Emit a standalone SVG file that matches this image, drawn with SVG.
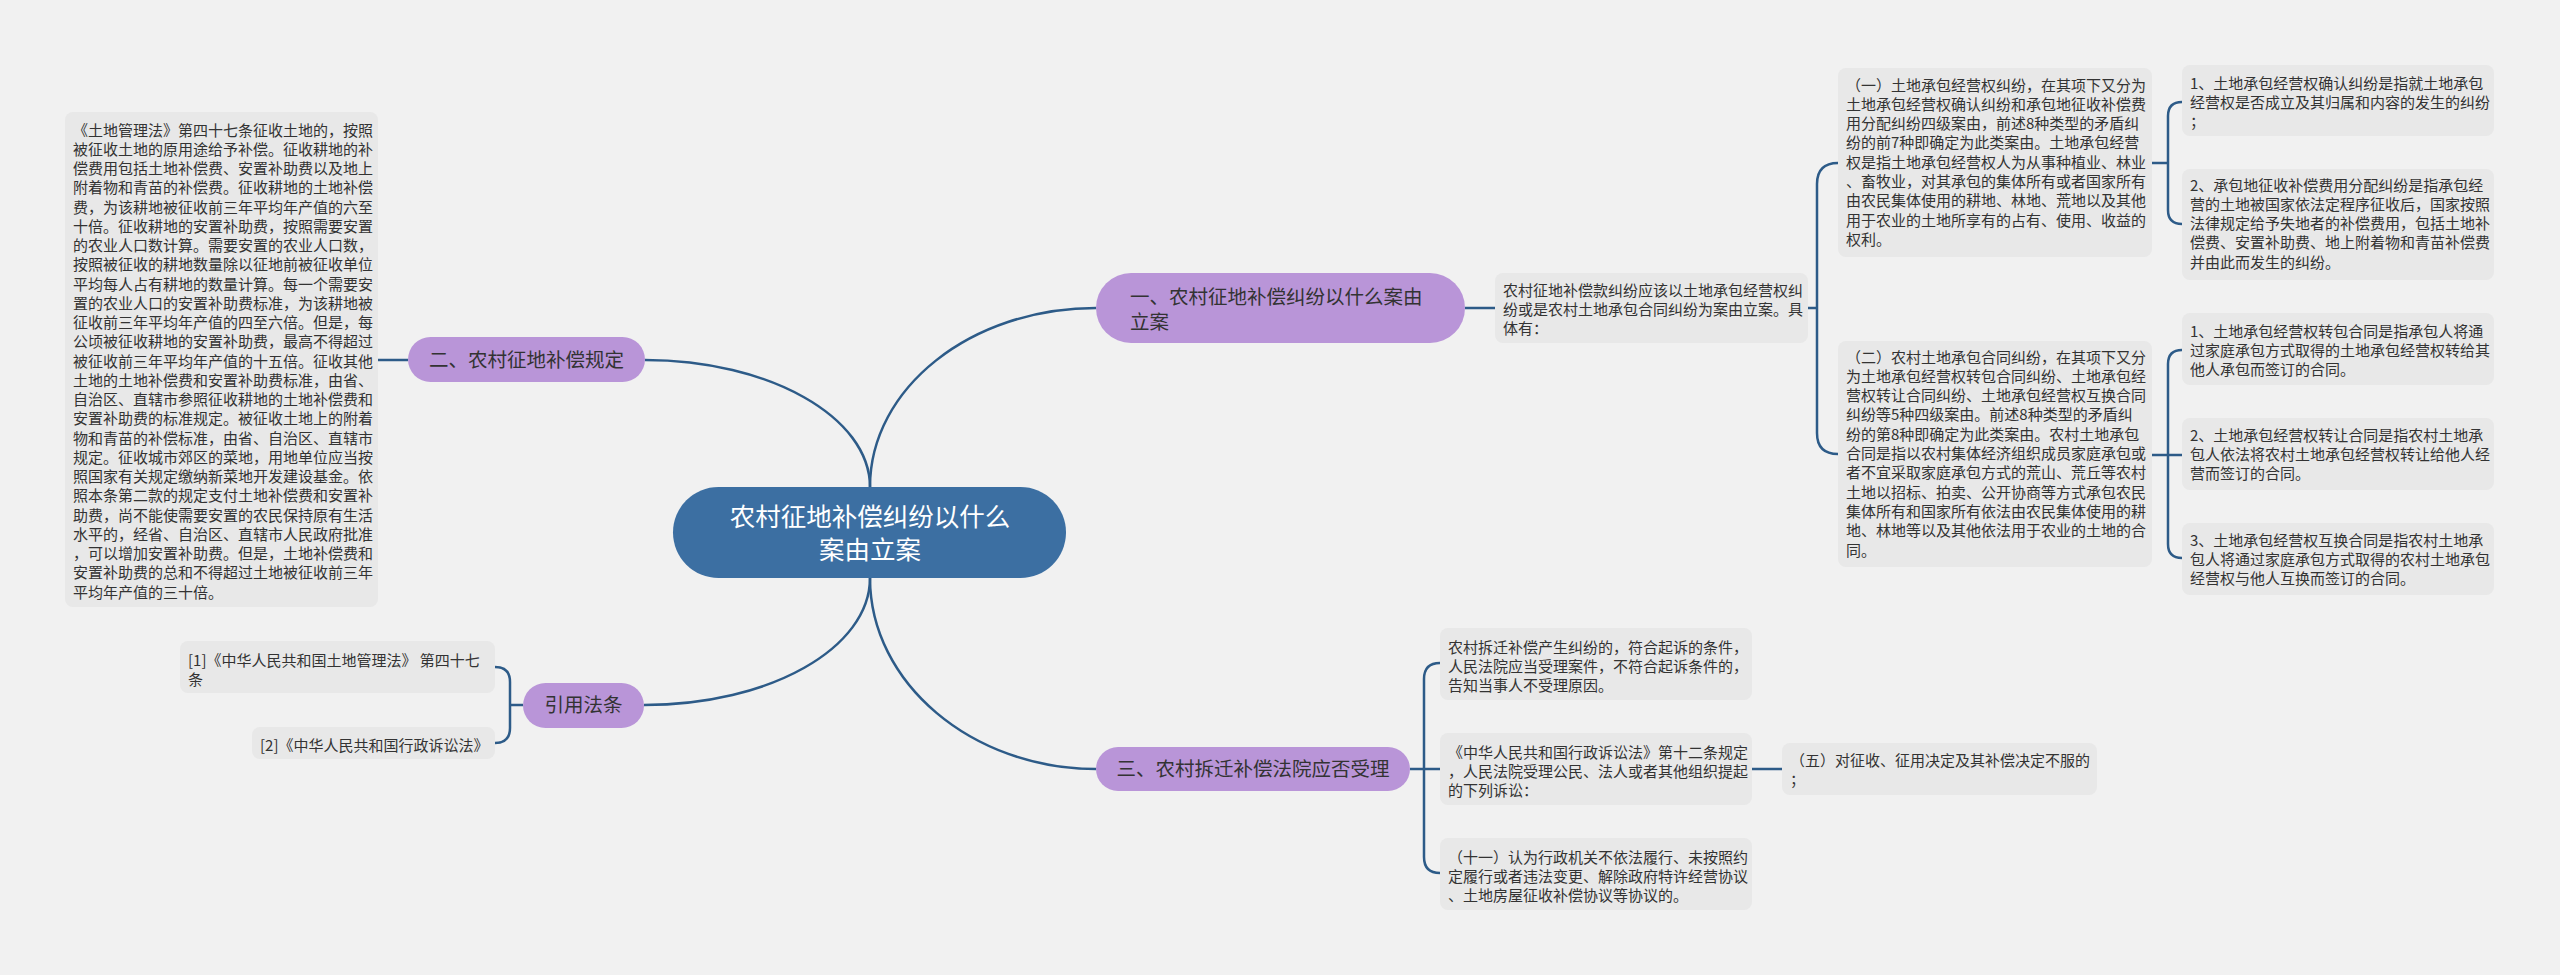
<svg xmlns="http://www.w3.org/2000/svg" width="2560" height="975" viewBox="0 0 2560 975">
<style>
text{font-family:"Noto Sans CJK SC","Noto Sans",sans-serif;}
.bg{fill:#f1f1f1;}
.box{fill:#e8e8e8;}
.t{font-size:15px;fill:#333333;}
.br{fill:#b995d8;}
.bt{font-size:19.5px;fill:#333333;}
.ct{font-size:25.5px;fill:#ffffff;text-anchor:middle;}
.ln{fill:none;stroke:#2d5b88;stroke-width:2.5;}
</style>
<rect class="bg" x="0" y="0" width="2560" height="975"/>
<g id="connectors">
<path class="ln" d="M870 487 C870 388 971 308 1096 308"/>
<path class="ln" d="M870 487 C870 417 769 360 645 360"/>
<path class="ln" d="M870 578 C870 683 972 769 1096 769"/>
<path class="ln" d="M870 578 C870 648 770 705 644 705"/>
<path class="ln" d="M408 360 L378 360"/>
<path class="ln" d="M1465 308 L1495 308"/>
<path class="ln" d="M1808 308 L1817 308"/>
<path class="ln" d="M1838 163 Q1817 163 1817 184 L1817 433 Q1817 454 1838 454"/>
<path class="ln" d="M2152 163 L2168 163"/>
<path class="ln" d="M2182 102 Q2168 102 2168 116 L2168 210 Q2168 224 2182 224"/>
<path class="ln" d="M2152 455 L2182 455"/>
<path class="ln" d="M2182 350 Q2168 350 2168 364 L2168 544 Q2168 558 2182 558"/>
<path class="ln" d="M1410 769 L1440 769"/>
<path class="ln" d="M1440 663 Q1424 663 1424 679 L1424 857 Q1424 873 1440 873"/>
<path class="ln" d="M1752 769 L1782 769"/>
<path class="ln" d="M523 705 L510 705"/>
<path class="ln" d="M495 667 Q510 667 510 682 L510 728 Q510 743 495 743"/>
</g>
<g id="center">
<rect x="673" y="487" width="393" height="91" rx="45.5" fill="#3c6fa2"/>
<text class="ct" x="870" y="526">农村征地补偿纠纷以什么</text>
<text class="ct" x="870" y="559">案由立案</text>
</g>
<g id="branch1">
<rect class="br" x="1096" y="273" width="369" height="70" rx="35"/>
<text class="bt" x="1130" y="304">一、农村征地补偿纠纷以什么案由</text>
<text class="bt" x="1130" y="329">立案</text>
</g>
<g id="branch2">
<rect class="br" x="408" y="337" width="237" height="45" rx="22.5"/>
<text class="bt" x="526.5" y="367" text-anchor="middle">二、农村征地补偿规定</text>
</g>
<g id="branch3">
<rect class="br" x="1096" y="747" width="314" height="44" rx="22"/>
<text class="bt" x="1253" y="776" text-anchor="middle">三、农村拆迁补偿法院应否受理</text>
</g>
<g id="branch4">
<rect class="br" x="523" y="683" width="121" height="45" rx="22.5"/>
<text class="bt" x="583.5" y="712" text-anchor="middle">引用法条</text>
</g>
<g id="law47">
<rect class="box" x="65" y="112" width="313" height="495" rx="8"/>
<text class="t" x="73" y="135.5">《土地管理法》第四十七条征收土地的，按照</text>
<text class="t" x="73" y="154.75">被征收土地的原用途给予补偿。征收耕地的补</text>
<text class="t" x="73" y="174">偿费用包括土地补偿费、安置补助费以及地上</text>
<text class="t" x="73" y="193.25">附着物和青苗的补偿费。征收耕地的土地补偿</text>
<text class="t" x="73" y="212.5">费，为该耕地被征收前三年平均年产值的六至</text>
<text class="t" x="73" y="231.75">十倍。征收耕地的安置补助费，按照需要安置</text>
<text class="t" x="73" y="251">的农业人口数计算。需要安置的农业人口数，</text>
<text class="t" x="73" y="270.25">按照被征收的耕地数量除以征地前被征收单位</text>
<text class="t" x="73" y="289.5">平均每人占有耕地的数量计算。每一个需要安</text>
<text class="t" x="73" y="308.75">置的农业人口的安置补助费标准，为该耕地被</text>
<text class="t" x="73" y="328">征收前三年平均年产值的四至六倍。但是，每</text>
<text class="t" x="73" y="347.25">公顷被征收耕地的安置补助费，最高不得超过</text>
<text class="t" x="73" y="366.5">被征收前三年平均年产值的十五倍。征收其他</text>
<text class="t" x="73" y="385.75">土地的土地补偿费和安置补助费标准，由省、</text>
<text class="t" x="73" y="405">自治区、直辖市参照征收耕地的土地补偿费和</text>
<text class="t" x="73" y="424.25">安置补助费的标准规定。被征收土地上的附着</text>
<text class="t" x="73" y="443.5">物和青苗的补偿标准，由省、自治区、直辖市</text>
<text class="t" x="73" y="462.75">规定。征收城市郊区的菜地，用地单位应当按</text>
<text class="t" x="73" y="482">照国家有关规定缴纳新菜地开发建设基金。依</text>
<text class="t" x="73" y="501.25">照本条第二款的规定支付土地补偿费和安置补</text>
<text class="t" x="73" y="520.5">助费，尚不能使需要安置的农民保持原有生活</text>
<text class="t" x="73" y="539.75">水平的，经省、自治区、直辖市人民政府批准</text>
<text class="t" x="73" y="559">，可以增加安置补助费。但是，土地补偿费和</text>
<text class="t" x="73" y="578.25">安置补助费的总和不得超过土地被征收前三年</text>
<text class="t" x="73" y="597.5">平均年产值的三十倍。</text>
</g>
<g id="ref1">
<rect class="box" x="180" y="641" width="315" height="52" rx="8"/>
<text class="t" x="188" y="665.5">[1]《中华人民共和国土地管理法》 第四十七</text>
<text class="t" x="188" y="684.8">条</text>
</g>
<g id="ref2">
<rect class="box" x="252" y="727" width="243" height="32" rx="8"/>
<text class="t" x="260" y="750.5">[2]《中华人民共和国行政诉讼法》</text>
</g>
<g id="cause">
<rect class="box" x="1495" y="273" width="313" height="70" rx="8"/>
<text class="t" x="1503" y="295.5">农村征地补偿款纠纷应该以土地承包经营权纠</text>
<text class="t" x="1503" y="314.8">纷或是农村土地承包合同纠纷为案由立案。具</text>
<text class="t" x="1503" y="334.1">体有：</text>
</g>
<g id="cause1">
<rect class="box" x="1838" y="68" width="314" height="189" rx="8"/>
<text class="t" x="1846" y="90.5">（一）土地承包经营权纠纷，在其项下又分为</text>
<text class="t" x="1846" y="109.8">土地承包经营权确认纠纷和承包地征收补偿费</text>
<text class="t" x="1846" y="129.1">用分配纠纷四级案由，前述8种类型的矛盾纠</text>
<text class="t" x="1846" y="148.4">纷的前7种即确定为此类案由。土地承包经营</text>
<text class="t" x="1846" y="167.7">权是指土地承包经营权人为从事种植业、林业</text>
<text class="t" x="1846" y="187">、畜牧业，对其承包的集体所有或者国家所有</text>
<text class="t" x="1846" y="206.3">由农民集体使用的耕地、林地、荒地以及其他</text>
<text class="t" x="1846" y="225.6">用于农业的土地所享有的占有、使用、收益的</text>
<text class="t" x="1846" y="244.9">权利。</text>
</g>
<g id="cause2">
<rect class="box" x="1838" y="341" width="314" height="226" rx="8"/>
<text class="t" x="1846" y="362.5">（二）农村土地承包合同纠纷，在其项下又分</text>
<text class="t" x="1846" y="381.8">为土地承包经营权转包合同纠纷、土地承包经</text>
<text class="t" x="1846" y="401.1">营权转让合同纠纷、土地承包经营权互换合同</text>
<text class="t" x="1846" y="420.4">纠纷等5种四级案由。前述8种类型的矛盾纠</text>
<text class="t" x="1846" y="439.7">纷的第8种即确定为此类案由。农村土地承包</text>
<text class="t" x="1846" y="459">合同是指以农村集体经济组织成员家庭承包或</text>
<text class="t" x="1846" y="478.3">者不宜采取家庭承包方式的荒山、荒丘等农村</text>
<text class="t" x="1846" y="497.6">土地以招标、拍卖、公开协商等方式承包农民</text>
<text class="t" x="1846" y="516.9">集体所有和国家所有依法由农民集体使用的耕</text>
<text class="t" x="1846" y="536.2">地、林地等以及其他依法用于农业的土地的合</text>
<text class="t" x="1846" y="555.5">同。</text>
</g>
<g id="a1">
<rect class="box" x="2182" y="65" width="312" height="71" rx="8"/>
<text class="t" x="2190" y="88.5">1、土地承包经营权确认纠纷是指就土地承包</text>
<text class="t" x="2190" y="107.8">经营权是否成立及其归属和内容的发生的纠纷</text>
<text class="t" x="2190" y="127.1">；</text>
</g>
<g id="a2">
<rect class="box" x="2182" y="169" width="312" height="111" rx="8"/>
<text class="t" x="2190" y="190.5">2、承包地征收补偿费用分配纠纷是指承包经</text>
<text class="t" x="2190" y="209.8">营的土地被国家依法定程序征收后，国家按照</text>
<text class="t" x="2190" y="229.1">法律规定给予失地者的补偿费用，包括土地补</text>
<text class="t" x="2190" y="248.4">偿费、安置补助费、地上附着物和青苗补偿费</text>
<text class="t" x="2190" y="267.7">并由此而发生的纠纷。</text>
</g>
<g id="b1">
<rect class="box" x="2182" y="313" width="312" height="72" rx="8"/>
<text class="t" x="2190" y="336.5">1、土地承包经营权转包合同是指承包人将通</text>
<text class="t" x="2190" y="355.8">过家庭承包方式取得的土地承包经营权转给其</text>
<text class="t" x="2190" y="375.1">他人承包而签订的合同。</text>
</g>
<g id="b2">
<rect class="box" x="2182" y="418" width="312" height="72" rx="8"/>
<text class="t" x="2190" y="440.5">2、土地承包经营权转让合同是指农村土地承</text>
<text class="t" x="2190" y="459.8">包人依法将农村土地承包经营权转让给他人经</text>
<text class="t" x="2190" y="479.1">营而签订的合同。</text>
</g>
<g id="b3">
<rect class="box" x="2182" y="523" width="312" height="72" rx="8"/>
<text class="t" x="2190" y="545.5">3、土地承包经营权互换合同是指农村土地承</text>
<text class="t" x="2190" y="564.8">包人将通过家庭承包方式取得的农村土地承包</text>
<text class="t" x="2190" y="584.1">经营权与他人互换而签订的合同。</text>
</g>
<g id="c1">
<rect class="box" x="1440" y="628" width="312" height="72" rx="8"/>
<text class="t" x="1448" y="652.5">农村拆迁补偿产生纠纷的，符合起诉的条件，</text>
<text class="t" x="1448" y="671.8">人民法院应当受理案件，不符合起诉条件的，</text>
<text class="t" x="1448" y="691.1">告知当事人不受理原因。</text>
</g>
<g id="c2">
<rect class="box" x="1440" y="733" width="312" height="72" rx="8"/>
<text class="t" x="1448" y="757.5">《中华人民共和国行政诉讼法》第十二条规定</text>
<text class="t" x="1448" y="776.8">，人民法院受理公民、法人或者其他组织提起</text>
<text class="t" x="1448" y="796.1">的下列诉讼：</text>
</g>
<g id="c3">
<rect class="box" x="1440" y="838" width="312" height="72" rx="8"/>
<text class="t" x="1448" y="862.5">（十一）认为行政机关不依法履行、未按照约</text>
<text class="t" x="1448" y="881.8">定履行或者违法变更、解除政府特许经营协议</text>
<text class="t" x="1448" y="901.1">、土地房屋征收补偿协议等协议的。</text>
</g>
<g id="d1">
<rect class="box" x="1782" y="743" width="315" height="52" rx="8"/>
<text class="t" x="1790" y="765.5">（五）对征收、征用决定及其补偿决定不服的</text>
<text class="t" x="1790" y="784.8">；</text>
</g>
</svg>
